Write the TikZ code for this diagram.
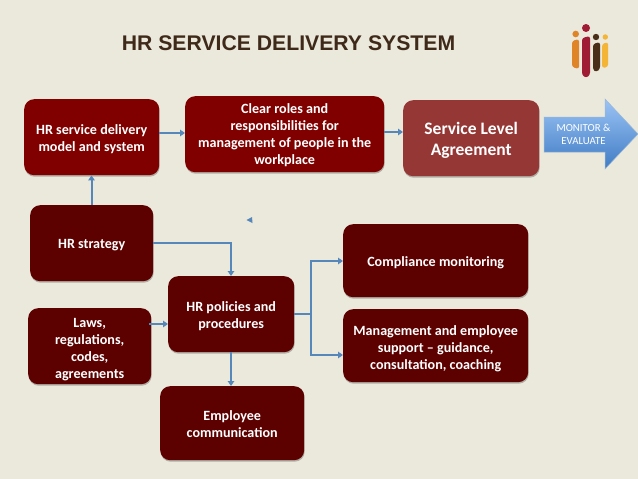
\documentclass[tikz,border=0pt]{standalone}
\usepackage{fontspec}
\setmainfont{Carlito}
\newfontfamily\titlefont{Liberation Sans}
\usetikzlibrary{arrows.meta,shadows,calc}
\definecolor{bgc}{HTML}{EBE8DC}
\definecolor{darkbox}{HTML}{5C0000}
\definecolor{redbox}{HTML}{800000}
\definecolor{slabox}{HTML}{953735}
\definecolor{conn}{HTML}{5587BA}
\definecolor{titlec}{HTML}{3F2A1A}
\definecolor{logoO}{HTML}{DF8427}
\definecolor{logoR}{HTML}{A01C35}
\definecolor{logoB}{HTML}{4A2E17}
\definecolor{logoY}{HTML}{F4B537}
\definecolor{arrowtop}{HTML}{9CC3F5}
\definecolor{arrowbot}{HTML}{3F7CC4}
\newcommand{\txtlines}[2][-5.8pt]{\raisebox{#1}[0pt][0pt]{\begin{tabular}{@{}c@{}}#2\end{tabular}}}
\tikzset{
  x=1pt,y=-1pt,
  boxbase/.style={rounded corners=10pt,draw=none,text=white,font=\bfseries\fontsize{14.1}{17}\selectfont,
    inner sep=0pt,anchor=north west,drop shadow={shadow xshift=0.5pt,shadow yshift=-1.5pt,opacity=.25,fill=black}},
  darkb/.style={boxbase,fill=darkbox},
  redb/.style={boxbase,fill=redbox},
  flow/.style={draw=conn,line width=2pt,-{Triangle[length=5pt,width=6.5pt]}},
  logobar/.style={rounded corners=2.5pt},
}
\begin{document}
\begin{tikzpicture}
\useasboundingbox (0,0) rectangle (638,479);
\fill[bgc] (0,0) rectangle (638,479);
\node[text=titlec,font=\titlefont\bfseries\fontsize{21.2}{25}\selectfont,anchor=center,inner sep=0pt] (title) at (288.5,43) {HR SERVICE DELIVERY SYSTEM};
\node[redb,minimum width=135pt,minimum height=76pt] (svc) at (24,99) {\txtlines{HR service delivery\\model and system}};
\node[redb,minimum width=199pt,minimum height=76pt] (roles) at (185,96) {\txtlines[-5pt]{Clear roles and\\responsibilities for\\management of people in the\\workplace}};
\node[boxbase,fill=slabox,font=\bfseries\fontsize{17.5}{21.5}\selectfont,minimum width=136pt,minimum height=76pt] (sla) at (403,100) {\txtlines[-7pt]{Service Level\\Agreement}};
\node[darkb,minimum width=123pt,minimum height=76pt] (strat) at (30,205) {\txtlines[-5pt]{HR strategy}};
\node[darkb,minimum width=123pt,minimum height=76pt] (laws) at (28,308) {\txtlines[-6.5pt]{Laws,\\regulations,\\codes,\\agreements}};
\node[darkb,minimum width=126pt,minimum height=76pt] (pol) at (168,276) {\txtlines{HR policies and\\procedures}};
\node[darkb,minimum width=144pt,minimum height=74pt] (emp) at (160,386) {\txtlines{Employee\\communication}};
\node[darkb,minimum width=185pt,minimum height=73pt] (comp) at (343,224) {\txtlines{Compliance monitoring}};
\node[darkb,minimum width=185pt,minimum height=73pt] (mgmt) at (343,309) {\txtlines[-6.5pt]{Management and employee\\support -- guidance,\\consultation, coaching}};
% big arrow
\path[draw=conn!60!white,line width=.5pt,top color=arrowtop,bottom color=arrowbot]
  (544,117) -- (605,117) -- (605,99) -- (638,134) -- (605,169) -- (605,152) -- (544,152) -- cycle;
\node[text=white,align=center,inner sep=0pt,font=\fontsize{10.8}{13}\selectfont] (mon) at (583.5,134) {MONITOR \&\\EVALUATE};
% connectors
\draw[flow] (svc.east |- 0,133) -- (roles.west |- 0,133);
\draw[flow] (roles.east |- 0,132) -- (sla.west |- 0,132);
\draw[flow] (strat.north -| 91.5,0) -- (svc.south -| 91.5,0);
\draw[flow] (strat.east |- 0,243) -- (231,243) -- (231,276);
\draw[flow] ([xshift=-2pt]laws.east |- 0,324) -- (pol.west |- 0,324);
\draw[flow] (pol.south -| 231,0) -- (emp.north -| 231,0);
\coordinate (fork) at (311,314);
\draw[draw=conn,line width=2pt] (pol.east |- fork) -- (fork);
\draw[flow] (fork) |- (comp.west |- 0,261);
\draw[flow] (fork) |- (mgmt.west |- 0,355);
% stray arrowhead
\fill[conn] (246.5,220) -- (252,217) -- (252.5,223) -- cycle;
% logo
\fill[logobar,logoO] (572,41) -- (579,39) -- (579,69) -- (572,67) -- cycle;
\fill[logobar,logoR] (582,38) -- (590,36) -- (590,75) -- (586,78) -- (582,75) -- cycle;
\fill[logobar,logoB] (593,44) -- (600,42) -- (600,69) -- (596.5,72) -- (593,70) -- cycle;
\fill[logobar,logoY] (602,44) -- (608,42) -- (608,67) -- (602,68) -- cycle;
\fill[logoO] (575.7,34) circle (3.3);
\fill[logoR] (586,28) circle (4);
\fill[logoB] (596,37) circle (3.2);
\fill[logoY] (605.3,37) circle (2.7);
\end{tikzpicture}
\end{document}
